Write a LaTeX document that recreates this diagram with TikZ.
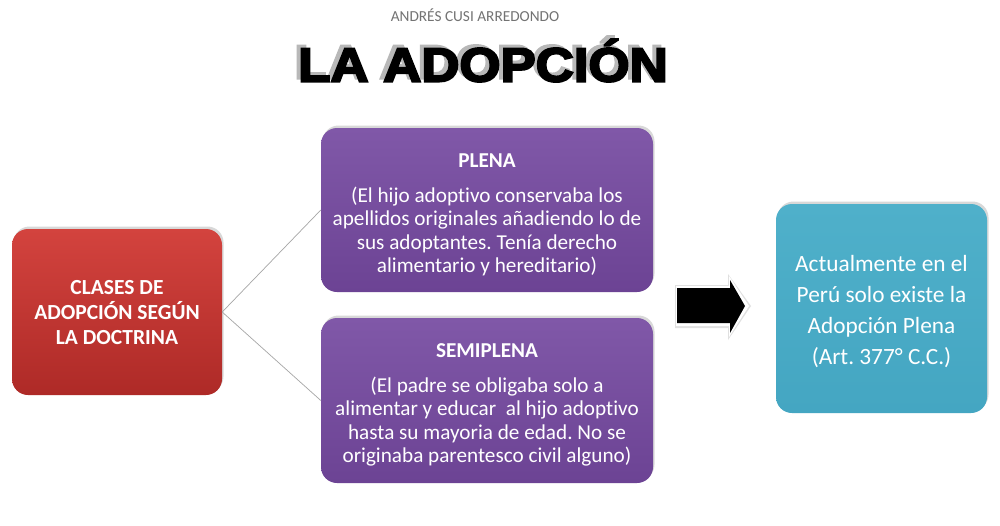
\documentclass[tikz,border=0pt]{standalone}
\usepackage{fontspec}
\setmainfont{Carlito}[Ligatures=NoCommon]
\newfontfamily\titlefont[FakeBold=4]{Liberation Sans Bold}
\usetikzlibrary{shadows}
\frenchspacing
\definecolor{redtop}{HTML}{D3433E}
\definecolor{redbot}{HTML}{AE2A27}
\definecolor{purtop}{HTML}{8058A8}
\definecolor{purbot}{HTML}{6C4394}
\definecolor{bluetop}{HTML}{4FB0CA}
\definecolor{bluebot}{HTML}{44A6C2}
\tikzset{
  box/.style={rounded corners=16pt, inner sep=0pt,
    drop shadow={opacity=0.3, shadow xshift=1.5pt, shadow yshift=2.5pt}},
  boxtext/.style={text=white, align=center, inner sep=0pt},
  redbox/.style={box, top color=redtop, bottom color=redbot},
  purbox/.style={box, top color=purtop, bottom color=purbot},
  bluebox/.style={box, top color=bluetop, bottom color=bluebot},
  redtext/.style={boxtext, font=\fontsize{21.5}{25}\selectfont\bfseries},
  purtext/.style={boxtext, font=\fontsize{21.2}{23.6}\selectfont},
  bluetext/.style={boxtext, font=\fontsize{23.3}{31}\selectfont},
  link/.style={draw=black!35, line width=0.7pt},
}
\begin{document}
\begin{tikzpicture}[x=1pt,y=-1pt]
\useasboundingbox (0,0) rectangle (1000,525);
\fill[white] (0,0) rectangle (1000,525);
\node[text=black!55, font=\fontsize{15.3}{16}\selectfont] (author) at (475,15) {ANDRÉS CUSI ARREDONDO};
\node[font=\fontsize{48}{50}\titlefont, xscale=1.1] (title) at (483,59)
  {\makebox[0pt][l]{\hspace{-3.6pt}\raisebox{3pt}{\color{black!28}LA ADOPCIÓN}}LA ADOPCIÓN};

\node[redbox, minimum width=210pt, minimum height=166pt] (clases) at (117,312) {};
\node[redtext] (clasestext) at (117,313) {CLASES DE\\ADOPCIÓN SEGÚN\\LA DOCTRINA};

\node[purbox, minimum width=332pt, minimum height=164pt] (plena) at (487,210) {};
\node[purtext] (plenatext) at (487,215)
  {\textbf{PLENA}\\[11pt](El hijo adoptivo conservaba los\\apellidos originales añadiendo lo de\\sus adoptantes. Tenía derecho\\alimentario y hereditario)};

\node[purbox, minimum width=332pt, minimum height=165pt] (semi) at (487,400.5) {};
\node[purtext] (semitext) at (487,405)
  {\textbf{SEMIPLENA}\\[11pt](El padre se obligaba solo a\\alimentar y educar\ \ al hijo adoptivo\\hasta su mayoria de edad. No se\\originaba parentesco civil alguno)};

\node[bluebox, minimum width=211pt, minimum height=209pt] (actual) at (881.5,308.5) {};
\node[bluetext] (actualtext) at (881.5,311.5)
  {Actualmente en el\\Perú solo existe la\\Adopción Plena\\(Art. 377° C.C.)};

\draw[link] (clases.east) -- (plena.west);
\draw[link] (clases.east) -- (semi.west);

\coordinate (arrowtail) at (677,305.5);
\coordinate (arrowtip) at (745,306);
\fill[black!12] (675,285) -- (728,285) -- (728,274) -- (751,306) -- (728,340) -- (728,328) -- (675,328) -- cycle;
\fill[white] (676,286) -- (729,286) -- (729,276) -- (749,306) -- (729,337) -- (729,326) -- (676,326) -- cycle;
\fill[black] (arrowtail) ++(0,-17.5) -- (730,288) -- (730,280) -- (arrowtip) -- (730,333) -- (730,323) -- (677,323) -- cycle;
\end{tikzpicture}
\end{document}
